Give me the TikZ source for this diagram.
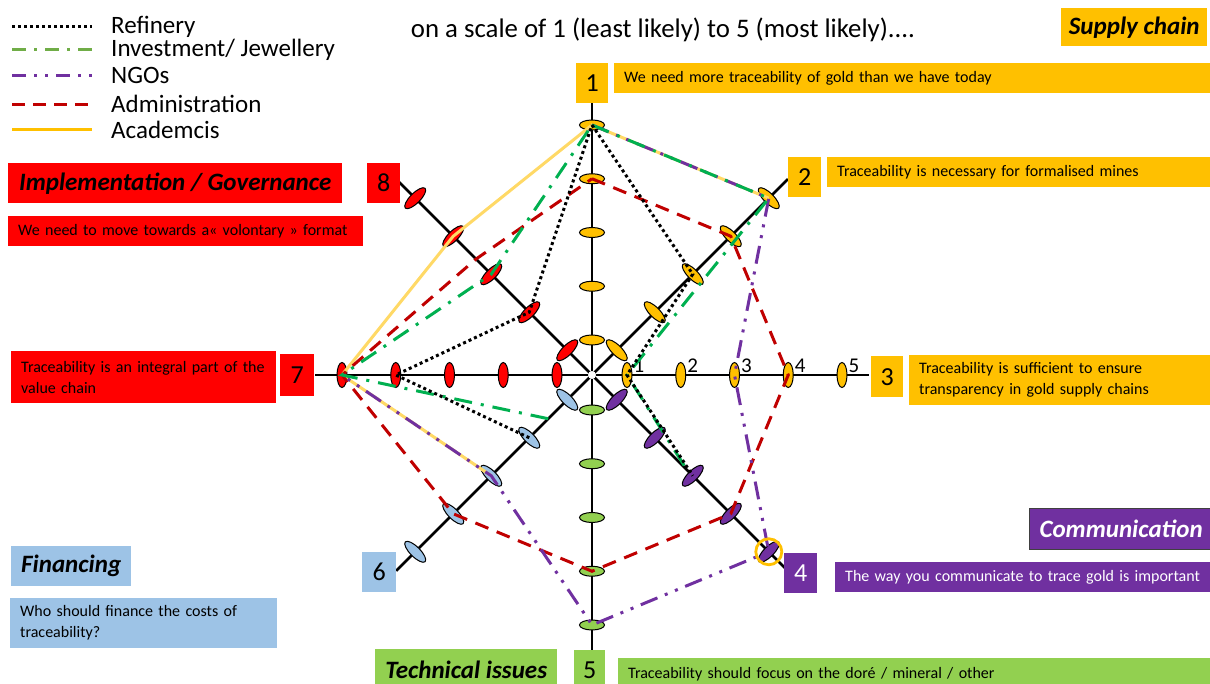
\documentclass[tikz,border=0pt]{standalone}
\usepackage{fontspec}
\setmainfont{Carlito}
\usetikzlibrary{shapes.geometric}
\definecolor{cgold}{HTML}{FFC000}
\definecolor{cred}{HTML}{FF0000}
\definecolor{cpurple}{HTML}{7030A0}
\definecolor{cgreen}{HTML}{92D050}
\definecolor{cblue}{HTML}{9DC3E6}
\definecolor{linv}{HTML}{00B050}
\definecolor{linvleg}{HTML}{70AD47}
\definecolor{ladm}{HTML}{C00000}
\definecolor{laca}{HTML}{FFD966}
\newcommand\fsz[2]{\fontsize{#1}{#2}\selectfont}
\newcommand\defpts[2]{%
  \foreach \v [count=\i] in {#2} {%
    \pgfmathsetmacro\A{135-45*\i}%
    \pgfmathsetmacro\R{(\v==0)?0:(35+53.75*(\v-1))}%
    \coordinate (#1\i) at ({592+\R*cos(\A)},{375-\R*sin(\A)});
  }}
% name, x1, y1, x2, y2, style, text
\newcommand\cbox[7]{%
  \pgfmathsetmacro\bw{#4-#2}\pgfmathsetmacro\bh{#5-#3}%
  \node[#6, anchor=north west, minimum width=\bw pt, minimum height=\bh pt, inner sep=0pt] (#1) at (#2,#3) {#7};}
\newcommand\stbox[7]{%
  \pgfmathsetmacro\tw{#4-#2-20}\pgfmathsetmacro\bh{#5-#3}%
  \node[#6, anchor=north west, text width=\tw pt, minimum height=\bh pt, inner xsep=10pt, inner ysep=0pt, align=left] (#1) at (#2,#3) {#7};}
\tikzset{
  axisline/.style={line width=2.8pt, black},
  tickmark/.style={ellipse, draw=black, line width=1pt, inner sep=0pt},
  numst/.style={font=\fsz{26}{30}},
  catst/.style={font=\fsz{25}{30}\bfseries\itshape},
  stst/.style={font=\fsz{16}{21}},
  refst/.style={black, line width=3pt, dash pattern=on 3pt off 3pt},
  invst/.style={linv, line width=3pt, dash pattern=on 18pt off 9pt on 3pt off 9pt},
  invleg/.style={linvleg, line width=3pt, dash pattern=on 14pt off 8pt on 3pt off 8pt},
  ngost/.style={cpurple, line width=3pt, dash pattern=on 18pt off 8pt on 3pt off 8pt on 3pt off 8pt},
  admst/.style={ladm, line width=3pt, dash pattern=on 14pt off 9pt},
  acast/.style={laca, line width=3pt},
  acaleg/.style={cgold, line width=3pt},
  legtext/.style={anchor=west, font=\fsz{25}{30}, inner sep=0pt},
}
\begin{document}
\begin{tikzpicture}[x=1pt,y=-1pt]
\useasboundingbox (0,0) rectangle (1210,684);
\fill[white] (0,0) rectangle (1210,684);

% legend
\coordinate (l1a) at (12,27); \coordinate (l1b) at (92,27);
\coordinate (l2a) at (12,50); \coordinate (l2b) at (92,50);
\coordinate (l3a) at (12,76); \coordinate (l3b) at (92,76);
\coordinate (l4a) at (12,105); \coordinate (l4b) at (92,105);
\coordinate (l5a) at (12,130); \coordinate (l5b) at (92,130);
\draw[refst] (l1a) -- (l1b);
\draw[invleg] (l2a) -- (l2b);
\draw[ngost, dash pattern=on 14pt off 8pt on 3pt off 8pt on 3pt off 8pt] (l3a) -- (l3b);
\draw[admst, dash pattern=on 13pt off 8pt] (l4a) -- (l4b);
\draw[acaleg] (l5a) -- (l5b);
\node[legtext] (lt1) at (111,27) {Refinery};
\node[legtext] (lt2) at (111,50) {Investment/ Jewellery};
\node[legtext] (lt3) at (111,75) {NGOs};
\node[legtext] (lt4) at (111,104) {Administration};
\node[legtext] (lt5) at (111,130) {Academcis};

% title
\node[font=\fsz{26.8}{30}] (title) at (663,30) {on a scale of 1 (least likely) to 5 (most likely)....};

% axes
\coordinate (O) at (592,375);
\foreach \i in {1,...,8} {
  \pgfmathsetmacro\A{135-45*\i}
  \coordinate (ax\i) at ({592+277*cos(\A)},{375-277*sin(\A)});
  \draw[axisline] (O) -- (ax\i);
}
\fill[white] (O) circle (4pt);

% tick ellipses
\foreach \i/\c/\w/\h in {1/cgold/10/25,2/cgold/10/28,3/cgold/10/25,4/cpurple/10/28,5/cgreen/10/25,6/cblue/10/28,7/cred/10/25,8/cred/10/28} {
  \pgfmathsetmacro\A{135-45*\i}
  \foreach \k in {1,...,5} {
    \pgfmathsetmacro\R{35+53.75*(\k-1)}
    \node[tickmark, fill=\c, minimum width=\w pt, minimum height=\h pt, rotate=\A] (t\i-\k) at ({592+\R*cos(\A)},{375-\R*sin(\A)}) {};
  }
}
% scale labels on axis 3
\foreach \k in {1,...,5} {
  \node[font=\fsz{21}{24}, inner sep=0pt] (sl\k) at ({639+53.75*(\k-1)},366) {\k};
}

% data points
\defpts{aca}{5,5,0,0,0,3,5,4}
\defpts{adm}{4,4,4,4,4,4,5,3.4}
\defpts{ngo}{5,5,3,5,5,3,5,0}
\defpts{inv}{5,5,1,2.85,0,1.5,5,3}
\defpts{ref}{5,3,1,3,0,2,4,2}

\draw[acast] (aca6) -- (aca7) -- (aca8) -- (aca1) -- (aca2);
\draw[admst] (adm1) -- (adm2) -- (adm3) -- (adm4) -- (adm5) -- (adm6) -- (adm7) -- (adm8) -- cycle;
\draw[ngost] (ngo1) -- (ngo2) -- (ngo3) -- (ngo4) -- (ngo5) -- (ngo6) -- (ngo7);
\draw[invst] (inv1) -- (inv2) -- (inv3) -- (inv4);
\draw[invst] (inv6) -- (inv7) -- (inv8) -- (inv1);
\draw[refst] (ref1) -- (ref2) -- (ref3) -- (ref4);
\draw[refst] (ref6) -- (ref7) -- (ref8) -- (ref1);

\node[circle, draw=cgold, line width=2.8pt, minimum size=26pt, inner sep=0pt] (hl) at (ngo4) {};

% number boxes
\cbox{n1}{576}{63}{608}{103}{fill=cgold, numst}{1}
\cbox{n2}{788}{157}{821}{197}{fill=cgold, numst}{2}
\cbox{n3}{871}{356}{903}{397}{fill=cgold, numst}{3}
\cbox{n4}{784}{553}{817}{593}{fill=cpurple, text=white, numst}{4}
\cbox{n5}{574}{650}{605}{690}{fill=cgreen, numst}{5}
\cbox{n6}{362}{552}{396}{592}{fill=cblue, numst}{6}
\cbox{n7}{280}{354}{314}{396}{fill=cred, numst}{7}
\cbox{n8}{367}{163}{400}{203}{fill=cred, numst}{8}

% statement boxes
\stbox{s1}{614}{63}{1212}{93}{fill=cgold, stst}{We need more traceability of gold than we have today}
\stbox{s2}{827}{157}{1212}{187}{fill=cgold, stst}{Traceability is necessary for formalised mines}
\stbox{s3}{909}{355}{1212}{405}{fill=cgold, stst}{Traceability is sufficient to ensure\\transparency in gold supply chains}
\stbox{s4}{835}{562}{1212}{592}{fill=cpurple, text=white, stst}{The way you communicate to trace gold is important}
\stbox{s5}{618}{658}{1212}{690}{fill=cgreen, stst}{Traceability should focus on the doré / mineral / other}
\stbox{s6}{10}{598}{277}{648}{fill=cblue, stst}{Who should finance the costs of\\traceability?}
\stbox{s7}{11}{351}{276}{403}{fill=cred, stst}{Traceability is an integral part of the\\value chain}
\stbox{s8}{8}{216}{363}{246}{fill=cred, stst}{We need to move towards a« volontary » format}

% category boxes
\cbox{c1}{1061}{8}{1207}{46}{fill=cgold, catst}{Supply chain}
\cbox{c2}{8}{163}{342}{203}{fill=cred, catst}{Implementation / Governance}
\cbox{c3}{1029}{508}{1212}{549}{fill=cpurple, draw=black!75, line width=1.2pt, text=white, catst}{Communication}
\cbox{c4}{11}{546}{131}{586}{fill=cblue, catst}{Financing}
\cbox{c5}{375}{649}{557}{690}{fill=cgreen, catst}{Technical issues}
\end{tikzpicture}
\end{document}
